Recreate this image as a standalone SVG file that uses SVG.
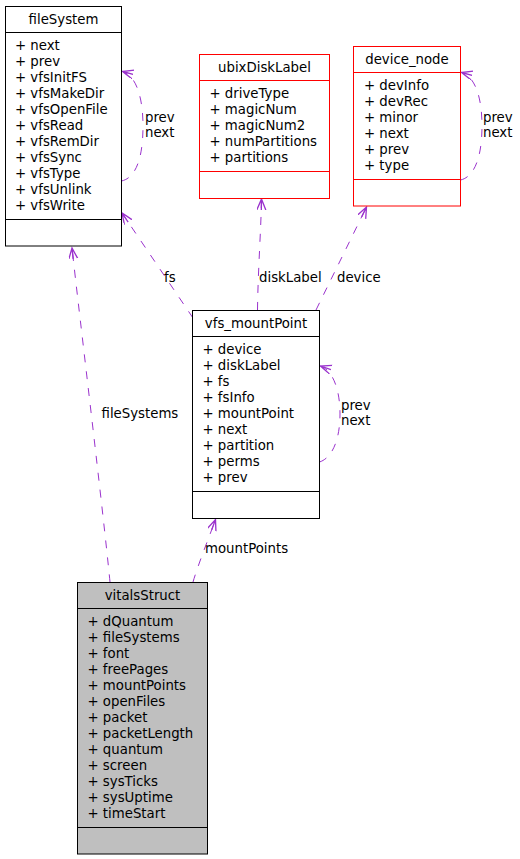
<svg xmlns="http://www.w3.org/2000/svg" width="520" height="859" viewBox="0 0 520 859">
<style>
text{font-family:"DejaVu Sans","Liberation Sans",sans-serif;font-size:13.3px;fill:#000}
.t{text-anchor:middle}
.box{fill:#fff;stroke:#000;stroke-width:1}
.red{fill:#fff;stroke:#ff0000;stroke-width:1}
.grey{fill:#bfbfbf;stroke:#000;stroke-width:1}
.ln{stroke:#000;stroke-width:1}
.lr{stroke:#ff0000;stroke-width:1}
.e{fill:none;stroke:#9a32cd;stroke-width:1;stroke-dasharray:8,9;marker-end:url(#ah)}
</style>
<defs>
<marker id="ah" markerUnits="userSpaceOnUse" markerWidth="14" markerHeight="12" refX="11" refY="4.5" orient="auto">
<path d="M0,0 L11,4.5 L0,9 M0,4.5 L11,4.5" fill="none" stroke="#9a32cd" stroke-width="1.3"/>
</marker>
</defs>
<rect width="520" height="859" fill="#fff"/>
<g id="edges">
<path class="e" d="M110,582 C103,510 80,320 72,248"/>
<path class="e" d="M193,582 C198,565 208,540 215.5,519.5"/>
<path class="e" d="M193,318 L122,213"/>
<path class="e" d="M257.5,310 C258,270 261,230 261.5,199"/>
<path class="e" d="M316,310 L366.5,207"/>
<path class="e" d="M121.5,181 C135,178 143,160 143,126 C143,95 135,75 122.5,71.5"/>
<path class="e" d="M460.5,180 C474,177 482,158 482,126 C482,95 474,76 461.5,72.5"/>
<path class="e" d="M319.5,462 C332,458 340,440 340,414 C340,388 332,370 320.5,366"/>
<text x="101.5" y="418">fileSystems</text>
<text x="205" y="553">mountPoints</text>
<text x="164" y="282">fs</text>
<text x="259" y="282">diskLabel</text>
<text x="337" y="282">device</text>
<text x="145" y="122">prev</text>
<text x="145" y="137">next</text>
<text x="483" y="122">prev</text>
<text x="483" y="137">next</text>
<text x="341" y="410">prev</text>
<text x="341" y="425">next</text>
</g>
<g id="fileSystem">
<rect class="box" x="5.5" y="6.5" width="116" height="239.5"/>
<line class="ln" x1="5.5" y1="32.5" x2="121.5" y2="32.5"/>
<line class="ln" x1="5.5" y1="219.5" x2="121.5" y2="219.5"/>
<text class="t" x="63.5" y="24">fileSystem</text>
<text x="15" y="50">+ next</text>
<text x="15" y="66">+ prev</text>
<text x="15" y="82">+ vfsInitFS</text>
<text x="15" y="98">+ vfsMakeDir</text>
<text x="15" y="114">+ vfsOpenFile</text>
<text x="15" y="130">+ vfsRead</text>
<text x="15" y="146">+ vfsRemDir</text>
<text x="15" y="162">+ vfsSync</text>
<text x="15" y="178">+ vfsType</text>
<text x="15" y="194">+ vfsUnlink</text>
<text x="15" y="210">+ vfsWrite</text>
</g>
<g id="ubixDiskLabel">
<rect class="red" x="199.5" y="54.5" width="130" height="144"/>
<line class="lr" x1="199.5" y1="80.5" x2="329.5" y2="80.5"/>
<line class="lr" x1="199.5" y1="171.5" x2="329.5" y2="171.5"/>
<text class="t" x="264.5" y="72">ubixDiskLabel</text>
<text x="209.5" y="98">+ driveType</text>
<text x="209.5" y="114">+ magicNum</text>
<text x="209.5" y="130">+ magicNum2</text>
<text x="209.5" y="146">+ numPartitions</text>
<text x="209.5" y="162">+ partitions</text>
</g>
<g id="device_node">
<rect class="red" x="353.5" y="46.5" width="107" height="159.5"/>
<line class="lr" x1="353.5" y1="72.5" x2="460.5" y2="72.5"/>
<line class="lr" x1="353.5" y1="179.5" x2="460.5" y2="179.5"/>
<text class="t" x="407" y="64">device_node</text>
<text x="364" y="90">+ devInfo</text>
<text x="364" y="106">+ devRec</text>
<text x="364" y="122">+ minor</text>
<text x="364" y="138">+ next</text>
<text x="364" y="154">+ prev</text>
<text x="364" y="170">+ type</text>
</g>
<g id="vfs_mountPoint">
<rect class="box" x="192.5" y="310.5" width="127" height="208"/>
<line class="ln" x1="192.5" y1="336.5" x2="319.5" y2="336.5"/>
<line class="ln" x1="192.5" y1="491.5" x2="319.5" y2="491.5"/>
<text class="t" x="256" y="328">vfs_mountPoint</text>
<text x="202.5" y="354">+ device</text>
<text x="202.5" y="370">+ diskLabel</text>
<text x="202.5" y="386">+ fs</text>
<text x="202.5" y="402">+ fsInfo</text>
<text x="202.5" y="418">+ mountPoint</text>
<text x="202.5" y="434">+ next</text>
<text x="202.5" y="450">+ partition</text>
<text x="202.5" y="466">+ perms</text>
<text x="202.5" y="482">+ prev</text>
</g>
<g id="vitalsStruct">
<rect class="grey" x="77.5" y="582.5" width="130" height="271.5"/>
<line class="ln" x1="77.5" y1="608.5" x2="207.5" y2="608.5"/>
<line class="ln" x1="77.5" y1="827.5" x2="207.5" y2="827.5"/>
<text class="t" x="142.5" y="600">vitalsStruct</text>
<text x="87.5" y="626">+ dQuantum</text>
<text x="87.5" y="642">+ fileSystems</text>
<text x="87.5" y="658">+ font</text>
<text x="87.5" y="674">+ freePages</text>
<text x="87.5" y="690">+ mountPoints</text>
<text x="87.5" y="706">+ openFiles</text>
<text x="87.5" y="722">+ packet</text>
<text x="87.5" y="738">+ packetLength</text>
<text x="87.5" y="754">+ quantum</text>
<text x="87.5" y="770">+ screen</text>
<text x="87.5" y="786">+ sysTicks</text>
<text x="87.5" y="802">+ sysUptime</text>
<text x="87.5" y="818">+ timeStart</text>
</g>
</svg>
